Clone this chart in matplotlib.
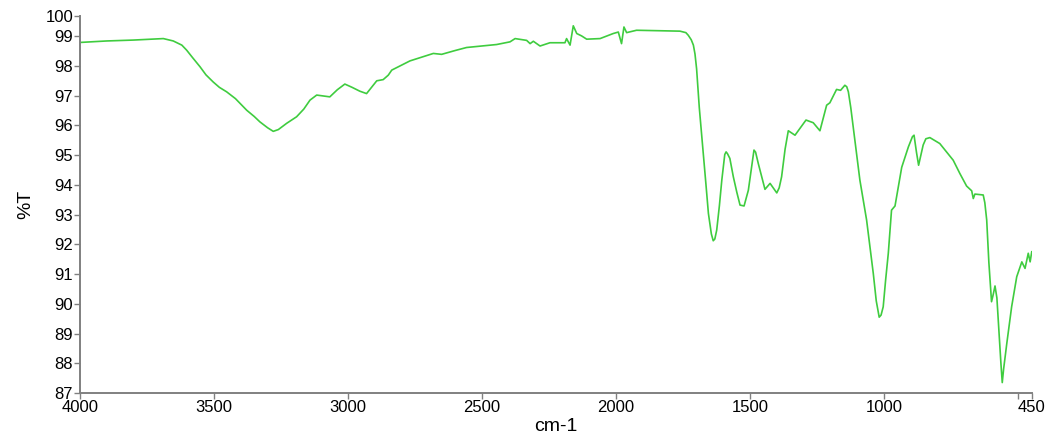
import matplotlib
matplotlib.use('Agg')
import matplotlib.pyplot as plt

# spectrum points
wavenumber = [4000, 3900, 3801, 3689, 3652, 3620, 3602, 3580, 3552, 3530, 3503, 3480, 3453,
              3420, 3378, 3350, 3329, 3300, 3279, 3260, 3229, 3192, 3165, 3142, 3117, 3068,
              3040, 3012, 2985, 2956, 2931, 2893, 2869, 2850, 2837, 2806, 2769, 2720, 2682,
              2651, 2600, 2558, 2500, 2446, 2396, 2377, 2334, 2321, 2309, 2284,
              2247, 2191, 2185, 2172, 2160, 2147, 2129, 2110, 2060, 2011, 1992, 1980,
              1971, 1961, 1924, 1812, 1762, 1740, 1731, 1720, 1712, 1706, 1700, 1690, 1675,
              1665, 1656, 1645, 1638, 1632, 1625, 1615,
              1606, 1595, 1590, 1585, 1576, 1563, 1550, 1538, 1523, 1507, 1495, 1486, 1480,
              1470, 1445, 1426, 1401, 1392,
              1383, 1370, 1358, 1333, 1292, 1265, 1240, 1215, 1203, 1178, 1163, 1147, 1140, 1134,
              1125, 1116, 1091, 1066, 1041, 1030, 1019, 1012, 1004, 995, 985, 973, 960, 935, 910,
              895, 889, 880, 872,
              855, 845, 830, 793, 743, 718, 693, 674, 668, 662, 631, 625, 618, 610, 600, 594, 587,
              580, 575, 565, 560, 555, 543, 525, 506, 487, 475, 463, 456, 450]
transmittance = [98.79, 98.84, 98.87, 98.92, 98.84, 98.70, 98.53, 98.28, 97.97, 97.70, 97.46, 97.28, 97.13,
                 96.90, 96.51, 96.30, 96.12, 95.92, 95.80, 95.86, 96.07, 96.29, 96.55, 96.85, 97.02, 96.96,
                 97.20, 97.39, 97.28, 97.15, 97.07, 97.50, 97.54, 97.69, 97.86, 98.00, 98.17, 98.31, 98.42,
                 98.39, 98.52, 98.62, 98.67, 98.72, 98.81, 98.92, 98.86, 98.75, 98.83, 98.67,
                 98.78, 98.78, 98.92, 98.70, 99.35, 99.09, 99.01, 98.90, 98.92, 99.09, 99.14, 98.75,
                 99.31, 99.12, 99.20, 99.18, 99.17, 99.12, 99.03, 98.88, 98.70, 98.40, 97.90, 96.60, 95.06,
                 94.00, 93.04, 92.35, 92.12, 92.18, 92.48, 93.30,
                 94.16, 95.02, 95.11, 95.05, 94.89, 94.27, 93.75, 93.32, 93.29, 93.82, 94.60, 95.17, 95.10,
                 94.72, 93.85, 94.05, 93.73, 93.90,
                 94.27, 95.20, 95.82, 95.67, 96.18, 96.09, 95.82, 96.68, 96.76, 97.21, 97.18, 97.35, 97.30, 97.13,
                 96.60, 95.95, 94.16, 92.82, 91.02, 90.10, 89.55, 89.62, 89.90, 90.80, 91.70, 93.15, 93.29, 94.59, 95.28,
                 95.62, 95.67, 95.10, 94.66,
                 95.34, 95.55, 95.59, 95.39, 94.83, 94.38, 93.96, 93.80, 93.54, 93.69, 93.66, 93.40, 92.82, 91.40, 90.07, 90.30, 90.60,
                 90.20, 89.45, 88.00, 87.35, 87.80, 88.67, 89.90, 90.91, 91.41, 91.19, 91.70, 91.41, 91.75]

xticks = [4000, 3500, 3000, 2500, 2000, 1500, 1000, 500, 450]
xtick_labels = ['4000', '3500', '3000', '2500', '2000', '1500', '1000', '', '450']
yticks = [87, 88, 89, 90, 91, 92, 93, 94, 95, 96, 97, 98, 99, 99.69]
ytick_labels = ['87', '88', '89', '90', '91', '92', '93', '94', '95', '96', '97', '98', '99', '100']

plt.rcParams['font.family'] = ['Liberation Sans', 'DejaVu Sans']

fig = plt.figure(figsize=(10.52, 4.37), dpi=100)
ax = fig.add_axes([0.076, 0.1007, 0.905, 0.8634])
ax.plot(wavenumber, transmittance, color='#3fcc3f', lw=1.2)

ax.set_xlim(4000, 449)
ax.set_ylim(87, 99.69)
ax.set_xticks(xticks)
ax.set_xticklabels(xtick_labels)
ax.set_yticks(yticks)
ax.set_yticklabels(ytick_labels)

for s in ['top', 'right']:
    ax.spines[s].set_visible(False)
for s in ['left', 'bottom']:
    ax.spines[s].set_color('#808080')
    ax.spines[s].set_linewidth(1.4)
ax.tick_params(colors='#808080', labelcolor='black', labelsize=12, length=4, width=1, pad=1)

ax.set_xlabel('cm-1', fontsize=14, labelpad=2)
ax.set_ylabel('%T', fontsize=14, labelpad=8)

fig.savefig('out.png', dpi=100)
